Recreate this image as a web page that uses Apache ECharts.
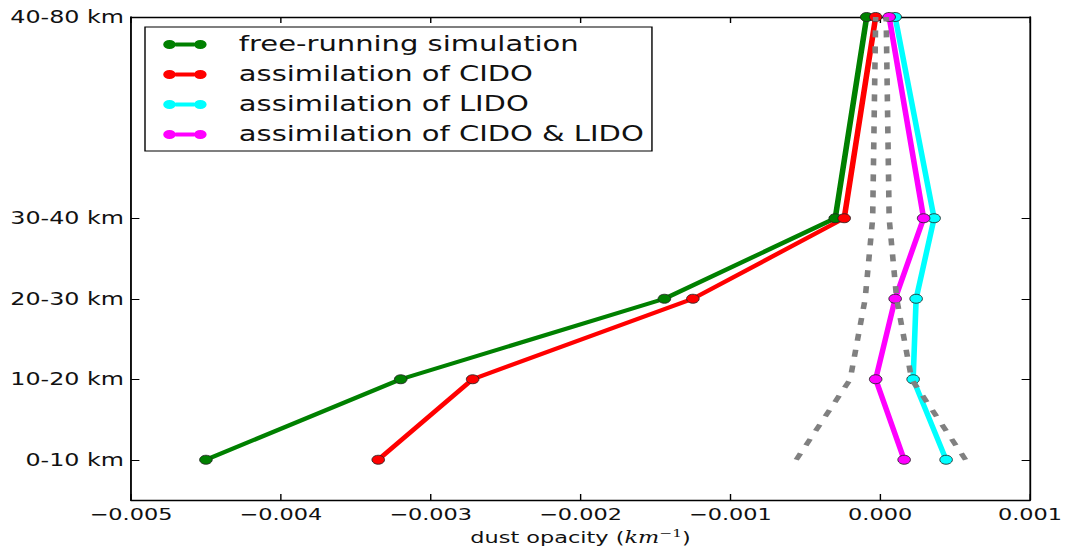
<!DOCTYPE html>
<html>
<head>
<meta charset="utf-8">
<script src="https://cdn.jsdelivr.net/npm/echarts@6/dist/echarts.min.js"></script>
<style>
  html, body { margin: 0; padding: 0; background: #fff; }
  #frame { width: 1066px; height: 549px; overflow: hidden; position: relative; }
  #chart { height: 549px; transform-origin: 0 0; position: absolute; left: 0; top: 0; }
</style>
</head>
<body>
<div id="frame"><div id="chart"></div></div>
<script>
// Altitude bins (km) placed at their band centre, with their tick labels
const altitudes = [5, 15, 25, 35, 60];
const altitudeLabels = ['0-10 km', '10-20 km', '20-30 km', '30-40 km', '40-80 km'];

// Dust opacity (km^-1) per altitude bin
const freeRunning = [-0.0045, -0.0032, -0.00144, -0.0003, -0.00009];
const assimCIDO   = [-0.00335, -0.00272, -0.00125, -0.00024, -0.00003];
const assimLIDO   = [0.00044, 0.00022, 0.00024, 0.00036, 0.0001];
const assimBoth   = [0.00016, -0.00003, 0.0001, 0.00029, 0.00006];

// Spread envelope (dashed grey)
const spreadLow  = [-0.00056, -0.0002, -0.0001, -0.00005, -0.00003];
const spreadHigh = [0.00057, 0.00021, 0.00011, 0.00006, 0.00004];

const seriesNames = [
  'free-running simulation',
  'assimilation of CIDO',
  'assimilation of LIDO',
  'assimilation of CIDO & LIDO'
];

// The figure is laid out narrow and widened horizontally
const FULL_W = 1066;
const W = 761;
const SX = FULL_W / W;
const el = document.getElementById('chart');
el.style.width = W + 'px';
el.style.transform = 'scaleX(' + SX + ')';

const pairs = (vals) => vals.map((v, i) => [v, altitudes[i]]);
const FONT = 'DejaVu Sans';

function fmtX(v) {
  if (Math.abs(v) < 1e-9) return '0.000';
  const s = Math.abs(v).toFixed(3);
  return v < 0 ? '\u2212' + s : s;
}

function profile(name, color, vals) {
  return {
    name: name,
    type: 'line',
    data: pairs(vals),
    symbol: 'circle',
    symbolSize: 9,
    showSymbol: true,
    lineStyle: { color: color, width: 4 },
    itemStyle: { color: color, borderColor: '#222', borderWidth: 0.7 },
    emphasis: { disabled: true },
    z: 2
  };
}

function envelope(vals) {
  return {
    type: 'line',
    data: pairs(vals),
    symbol: 'none',
    lineStyle: { color: '#808080', width: 4, type: [7, 9] },
    emphasis: { disabled: true },
    z: 3
  };
}

const axisLine = { show: true, onZero: false, lineStyle: { color: '#000', width: 1.3 } };
const tickStyle = { inside: true, length: 6, lineStyle: { color: '#000', width: 1 } };

// Legend key: marker, short bar, marker
const legendIcon = 'path://M0,4.5a4.5,4.5 0 1,1 9,0a4.5,4.5 0 1,1 -9,0z M8.8,2.5h13.4v4h-13.4z M22,4.5a4.5,4.5 0 1,1 9,0a4.5,4.5 0 1,1 -9,0z';

const chart = echarts.init(el, null, { renderer: 'svg' });
chart.setOption({
  animation: false,
  backgroundColor: '#fff',
  grid: {
    left: 131 / SX,
    right: (FULL_W - 1030) / SX,
    top: 17,
    bottom: 49,
    containLabel: false,
    outerBoundsMode: 'none'
  },
  legend: {
    data: seriesNames,
    orient: 'vertical',
    left: 145 / SX,
    top: 27,
    padding: [7, 6, 6, 13],
    itemGap: 9,
    itemWidth: 31,
    itemHeight: 9,
    icon: legendIcon,
    itemStyle: { borderWidth: 0 },
    selectedMode: false,
    borderColor: '#000',
    borderWidth: 1,
    backgroundColor: '#fff',
    textStyle: { fontFamily: FONT, fontSize: 20.7, color: '#111', lineHeight: 20, padding: [0, 0, 0, 18] }
  },
  xAxis: [
    {
      type: 'value',
      min: -0.005,
      max: 0.001,
      interval: 0.001,
      axisLine: axisLine,
      axisTick: tickStyle,
      splitLine: { show: false },
      axisLabel: { formatter: fmtX, fontFamily: FONT, fontSize: 16, color: '#111', margin: 7, showMinLabel: true, showMaxLabel: true },
      name: '{t|dust opacity (}{m|km}{s|\u22121}{t|)}',
      nameLocation: 'middle',
      nameGap: 27,
      nameTextStyle: {
        rich: {
          t: { fontFamily: FONT, fontSize: 16, color: '#111', lineHeight: 20 },
          m: { fontFamily: 'DejaVu Serif', fontStyle: 'italic', fontSize: 16, color: '#111', lineHeight: 20 },
          s: { fontFamily: 'DejaVu Serif', fontSize: 11, color: '#111', lineHeight: 12, verticalAlign: 'top' }
        }
      }
    },
    {
      type: 'value',
      position: 'top',
      min: -0.005,
      max: 0.001,
      interval: 0.001,
      axisLine: axisLine,
      axisTick: tickStyle,
      splitLine: { show: false },
      axisLabel: { show: false }
    }
  ],
  yAxis: [
    {
      type: 'value',
      position: 'left',
      min: 0,
      max: 60,
      axisLine: axisLine,
      axisTick: Object.assign({ customValues: altitudes }, tickStyle),
      splitLine: { show: false },
      axisLabel: {
        customValues: altitudes,
        formatter: (v) => altitudeLabels[altitudes.indexOf(v)] || '',
        fontFamily: FONT,
        fontSize: 17,
        color: '#111',
        margin: 5
      }
    },
    {
      type: 'value',
      position: 'right',
      min: 0,
      max: 60,
      axisLine: axisLine,
      axisTick: Object.assign({ customValues: altitudes }, tickStyle),
      splitLine: { show: false },
      axisLabel: { show: false }
    }
  ],
  series: [
    profile(seriesNames[0], '#008000', freeRunning),
    profile(seriesNames[1], '#ff0000', assimCIDO),
    profile(seriesNames[2], '#00ffff', assimLIDO),
    profile(seriesNames[3], '#ff00ff', assimBoth),
    envelope(spreadLow),
    envelope(spreadHigh)
  ]
});
</script>
</body>
</html>
